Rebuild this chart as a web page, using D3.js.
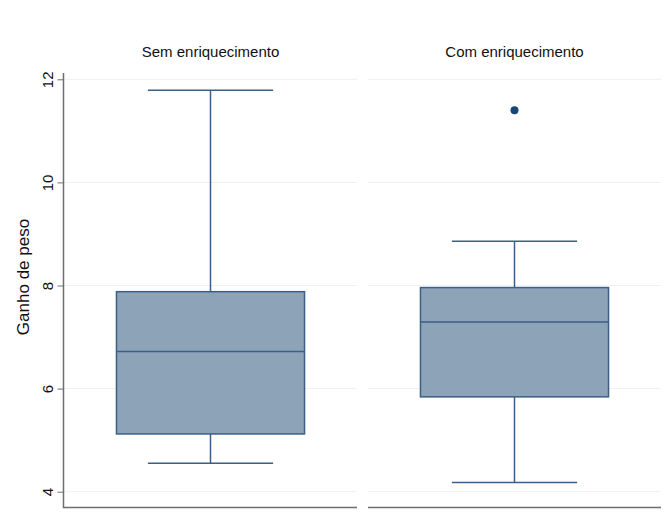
<!DOCTYPE html>
<html>
<head>
<meta charset="utf-8">
<script src="https://cdn.jsdelivr.net/npm/d3@7"></script>
<style>
  html, body { margin: 0; padding: 0; background: #fff; }
  svg { display: block; font-family: "Liberation Sans", Arial, Helvetica, sans-serif; }
</style>
</head>
<body>
<svg id="chart" width="671" height="525"></svg>
<script>
// Box plot summaries per group
const groups = ["Sem enriquecimento", "Com enriquecimento"];
const whiskerLow = [4.55, 4.18];
const q1 = [5.12, 5.84];
const medians = [6.72, 7.29];
const q3 = [7.88, 7.96];
const whiskerHigh = [11.79, 8.86];
const outliers = [[], [11.40]];
const yTicks = [4, 6, 8, 10, 12];
const yLabel = "Ganho de peso";

const svg = d3.select("#chart");

const panelX = [[64, 357], [368, 661]];
const y = d3.scaleLinear().domain([4, 12]).range([491.7, 79.3]);

const fillColor = "#8da3b8";
const strokeColor = "#3b5f86";
const dotColor = "#1a476f";
const gridColor = "#edf1f1";
const axisColor = "#6e6e6e";

groups.forEach((g, i) => {
  const [x0, x1] = panelX[i];
  const x = d3.scaleBand().domain([g]).range([x0, x1]).paddingInner(0).paddingOuter(0.279);
  const panel = svg.append("g");

  // horizontal gridlines
  panel.selectAll("line.grid").data(yTicks).join("line")
    .attr("x1", x0).attr("x2", x1)
    .attr("y1", d => y(d)).attr("y2", d => y(d))
    .attr("stroke", gridColor).attr("stroke-width", 1);

  // bottom axis line
  panel.append("line")
    .attr("x1", x0).attr("x2", x1)
    .attr("y1", 507.5).attr("y2", 507.5)
    .attr("stroke", axisColor).attr("stroke-width", 1.5);

  // panel title
  panel.append("text")
    .attr("x", (x0 + x1) / 2).attr("y", 57)
    .attr("text-anchor", "middle")
    .attr("font-size", 15).attr("fill", "#111")
    .text(g);

  const cx = x(g) + x.bandwidth() / 2;
  const bw = x.bandwidth();
  const capHalf = bw * 0.333;

  // whiskers
  panel.append("line")
    .attr("x1", cx).attr("x2", cx)
    .attr("y1", y(q3[i])).attr("y2", y(whiskerHigh[i]))
    .attr("stroke", strokeColor).attr("stroke-width", 1.5);
  panel.append("line")
    .attr("x1", cx).attr("x2", cx)
    .attr("y1", y(q1[i])).attr("y2", y(whiskerLow[i]))
    .attr("stroke", strokeColor).attr("stroke-width", 1.5);
  [whiskerLow[i], whiskerHigh[i]].forEach(v => {
    panel.append("line")
      .attr("x1", cx - capHalf).attr("x2", cx + capHalf)
      .attr("y1", y(v)).attr("y2", y(v))
      .attr("stroke", strokeColor).attr("stroke-width", 1.5);
  });

  // box
  panel.append("rect")
    .attr("x", x(g)).attr("width", bw)
    .attr("y", y(q3[i])).attr("height", y(q1[i]) - y(q3[i]))
    .attr("fill", fillColor)
    .attr("stroke", strokeColor).attr("stroke-width", 1.5);

  // median
  panel.append("line")
    .attr("x1", x(g)).attr("x2", x(g) + bw)
    .attr("y1", y(medians[i])).attr("y2", y(medians[i]))
    .attr("stroke", strokeColor).attr("stroke-width", 1.5);

  // outliers
  panel.selectAll("circle").data(outliers[i]).join("circle")
    .attr("cx", cx).attr("cy", d => y(d)).attr("r", 4)
    .attr("fill", dotColor);
});

// y axis
const yAxis = d3.axisLeft(y).tickValues(yTicks).tickSize(6).tickFormat(d3.format("d"));
const gAxis = svg.append("g").attr("transform", "translate(63.5,0)").call(yAxis);
gAxis.select(".domain").attr("d", `M0,${73}V${508.2}`).attr("stroke", axisColor).attr("stroke-width", 1.5);
gAxis.selectAll(".tick line").attr("stroke", axisColor).attr("stroke-width", 1);
gAxis.selectAll(".tick text")
  .attr("font-size", 15).attr("fill", "#111")
  .attr("font-family", "Liberation Sans, Arial, sans-serif")
  .attr("text-anchor", "middle")
  .attr("transform", "translate(-11,0) rotate(-90)")
  .attr("x", 0).attr("y", 0).attr("dy", null);

// y axis title
svg.append("text")
  .attr("transform", `translate(29,277) rotate(-90)`)
  .attr("text-anchor", "middle")
  .attr("font-size", 17).attr("fill", "#111")
  .text(yLabel);
</script>
</body>
</html>
